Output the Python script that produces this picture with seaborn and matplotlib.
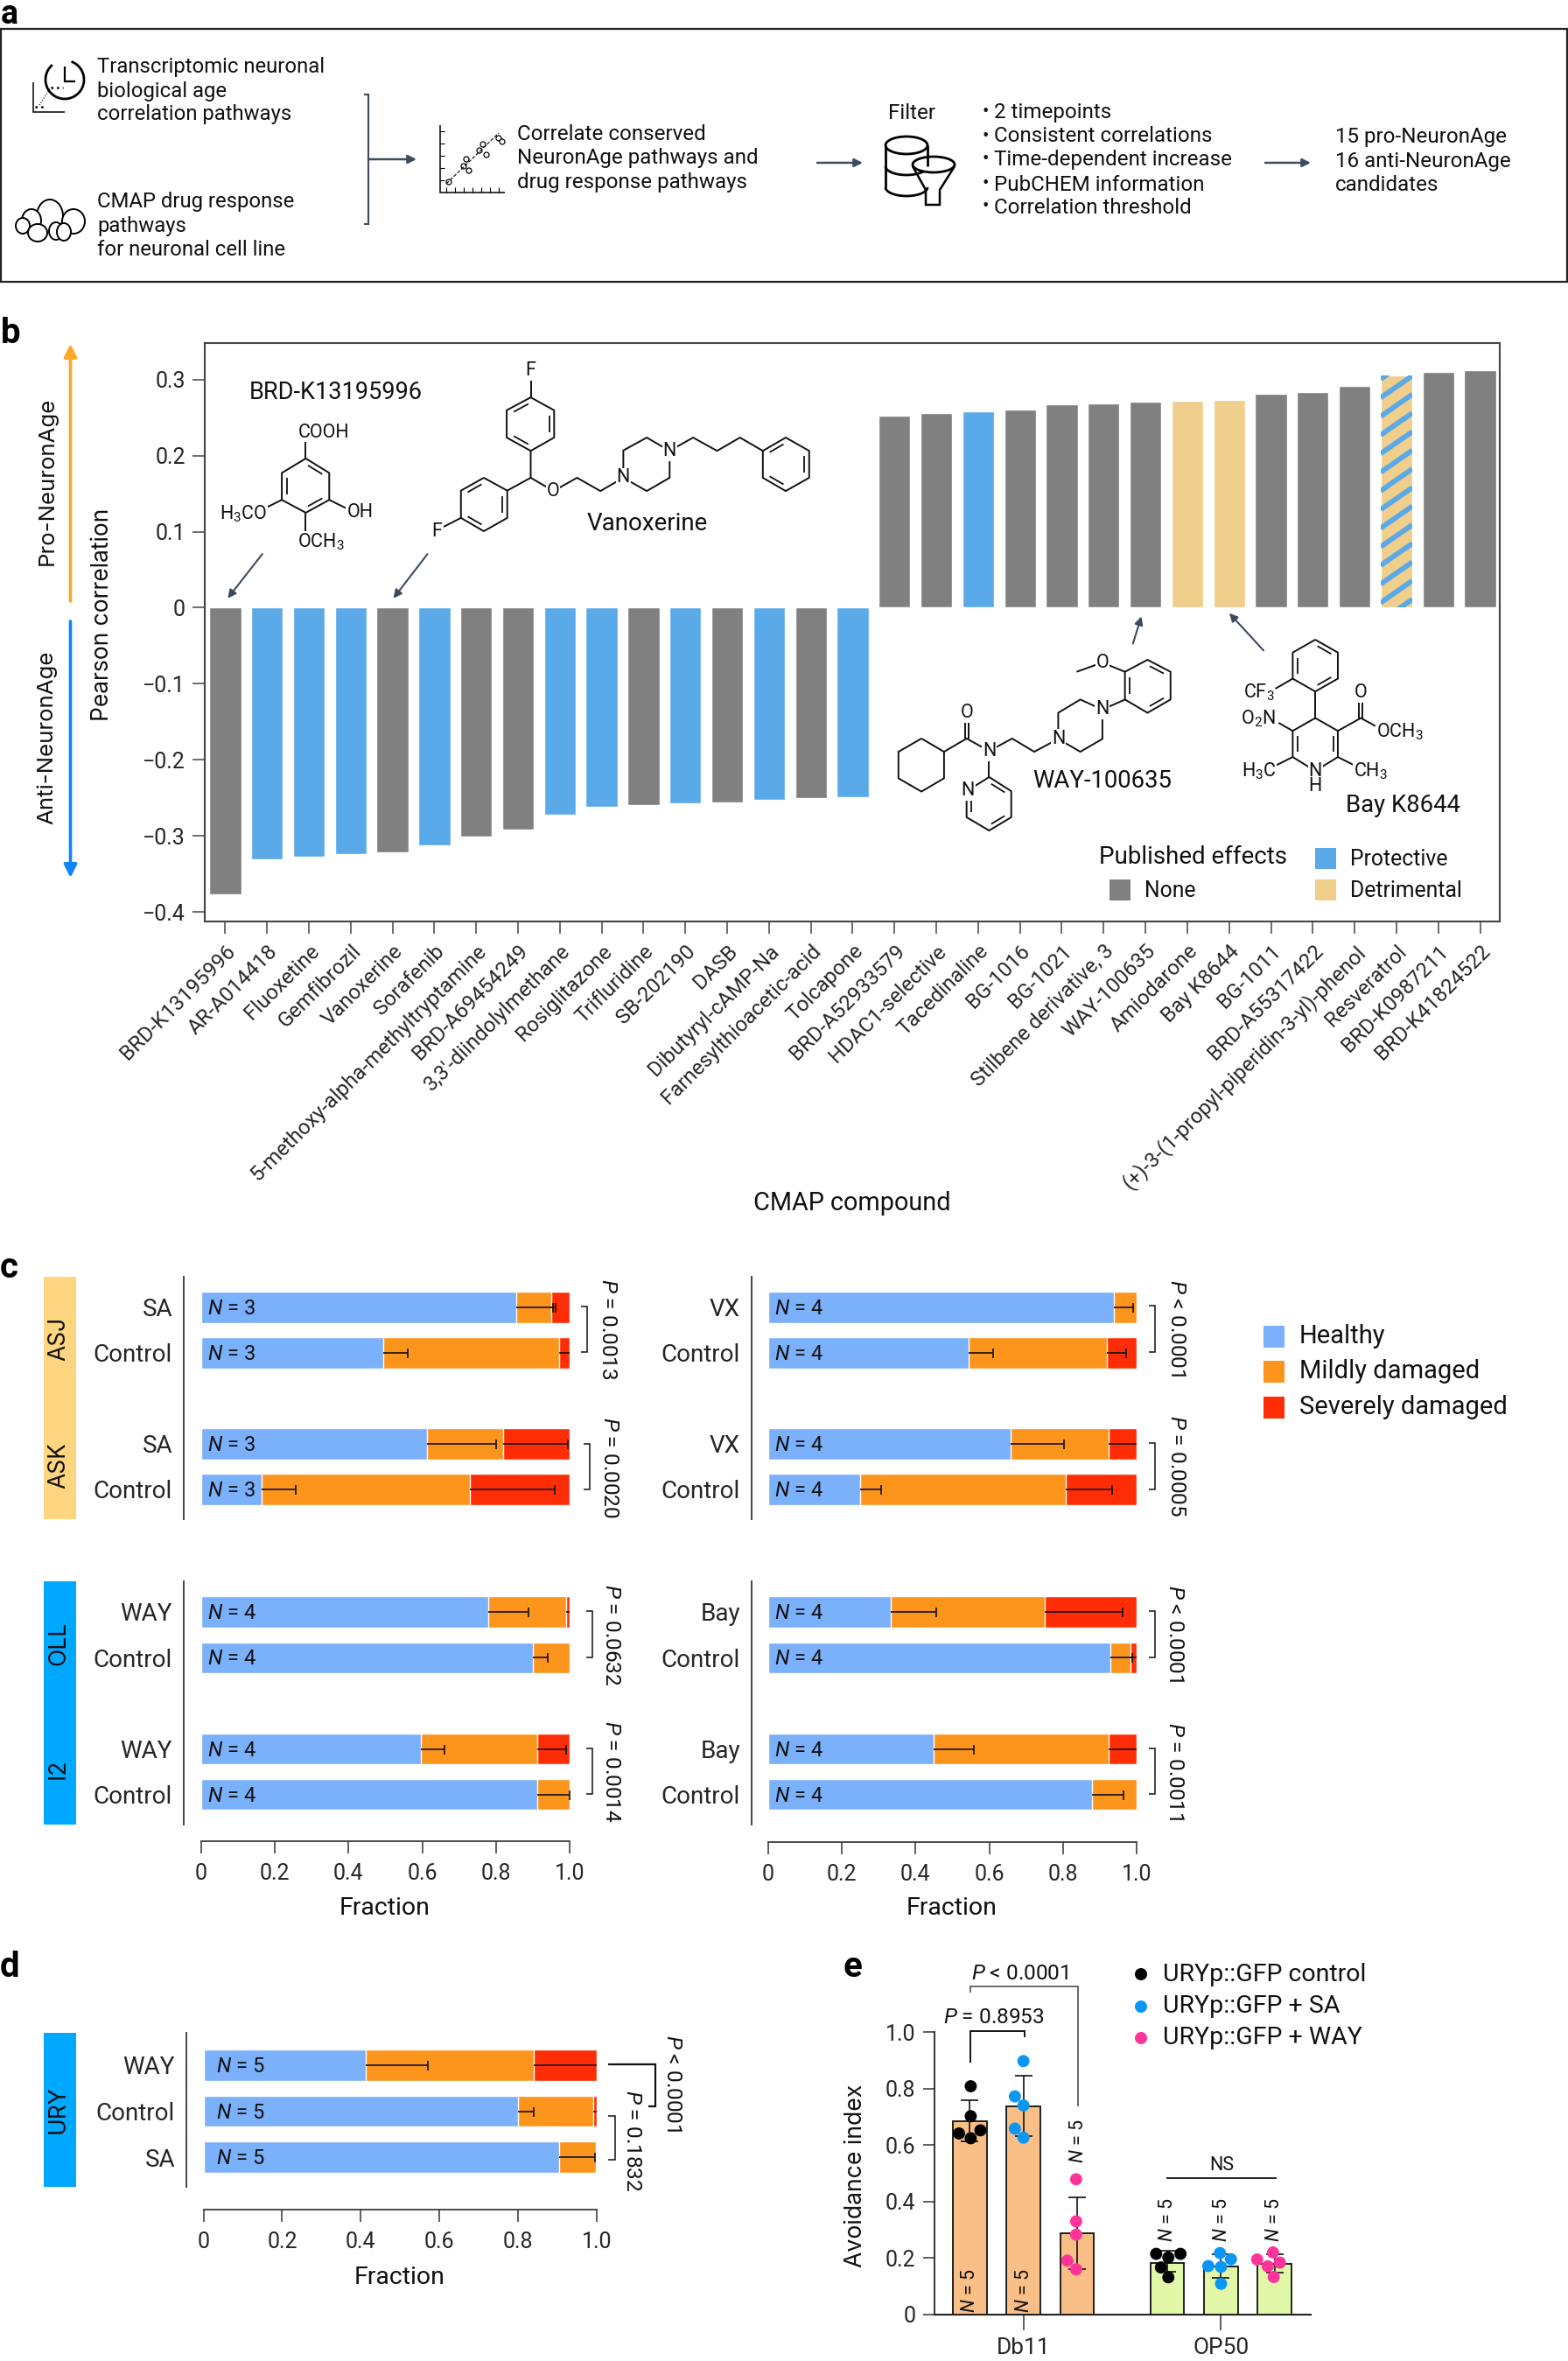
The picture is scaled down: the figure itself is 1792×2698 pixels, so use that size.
import matplotlib
matplotlib.use("Agg")
import numpy as np
import pandas as pd
import matplotlib.pyplot as plt
import seaborn as sns
from matplotlib.patches import Rectangle, Ellipse, Arc, Circle, FancyArrowPatch

W, H = 1792, 2698

# panel b
compounds = ["BRD-K13195996", "AR-A014418", "Fluoxetine", "Gemfibrozil", "Vanoxerine", "Sorafenib",
             "5-methoxy-alpha-methyltryptamine", "BRD-A69454249", "3,3'-diindolylmethane", "Rosiglitazone",
             "Trifluridine", "SB-202190", "DASB", "Dibutyryl-cAMP-Na", "Farnesylthioacetic-acid", "Tolcapone",
             "BRD-A52933579", "HDAC1-selective", "Tacedinaline", "BG-1016", "BG-1021", "Stilbene derivative, 3",
             "WAY-100635", "Amiodarone", "Bay K8644", "BG-1011", "BRD-A55317422",
             "(+)-3-(1-propyl-piperidin-3-yl)-phenol", "Resveratrol", "BRD-K0987211", "BRD-K41824522"]
correlation = [-0.377, -0.331, -0.328, -0.324, -0.322, -0.313, -0.301, -0.292, -0.272, -0.262, -0.259,
               -0.257, -0.256, -0.253, -0.250, -0.249,
               0.252, 0.256, 0.258, 0.260, 0.268, 0.269, 0.271, 0.272, 0.273, 0.281, 0.284, 0.292, 0.305,
               0.310, 0.312]
effect = ["None", "Protective", "Protective", "Protective", "None", "Protective", "None", "None", "Protective",
          "Protective", "None", "Protective", "None", "Protective", "None", "Protective",
          "None", "None", "Protective", "None", "None", "None", "None", "Detrimental", "Detrimental",
          "None", "None", "None", "Both", "None", "None"]
b_yticks = [0.3, 0.2, 0.1, 0, -0.1, -0.2, -0.3, -0.4]
b_ylabels = ["0.3", "0.2", "0.1", "0", "\u22120.1", "\u22120.2", "\u22120.3", "\u22120.4"]

# panel c, each block: labels, healthy end, mild end, end of the two error bars
asj_rows = ["SA", "Control", "SA", "Control"]
asj_healthy = [0.856, 0.493, 0.613, 0.165]
asj_mild = [0.950, 0.972, 0.820, 0.730]
asj_err1 = [0.954, 0.561, 0.800, 0.256]
asj_err2 = [0.962, 1.000, 0.996, 0.960]

oll_rows = ["WAY", "Control", "WAY", "Control"]
oll_healthy = [0.780, 0.900, 0.596, 0.911]
oll_mild = [0.990, 1.000, 0.912, 1.000]
oll_err1 = [0.888, 0.940, 0.661, 1.000]
oll_err2 = [1.000, np.nan, 0.990, np.nan]

vx_rows = ["VX", "Control", "VX", "Control"]
vx_healthy = [0.939, 0.545, 0.657, 0.250]
vx_mild = [1.000, 0.920, 0.925, 0.808]
vx_err1 = [0.990, 0.611, 0.803, 0.306]
vx_err2 = [np.nan, 0.972, 1.000, 0.934]

bay_rows = ["Bay", "Control", "Bay", "Control"]
bay_healthy = [0.333, 0.929, 0.449, 0.879]
bay_mild = [0.750, 0.983, 0.924, 1.000]
bay_err1 = [0.457, 0.987, 0.558, 0.964]
bay_err2 = [0.962, 1.000, 1.000, np.nan]

# panel d
ury_rows = ["WAY", "Control", "SA"]
ury_healthy = [0.412, 0.800, 0.904]
ury_mild = [0.840, 0.992, 0.998]
ury_err1 = [0.570, 0.840, 0.995]
ury_err2 = [1.000, 1.000, np.nan]

fraction_ticks = [0, 0.2, 0.4, 0.6, 0.8, 1.0]
fraction_labels = ["0", "0.2", "0.4", "0.6", "0.8", "1.0"]

# panel e
foods = ["Db11", "OP50"]
groups = ["URYp::GFP control", "URYp::GFP + SA", "URYp::GFP + WAY"]
e_means = [[0.684, 0.184], [0.736, 0.170], [0.287, 0.179]]
e_upper = [[0.760, 0.225], [0.845, 0.215], [0.415, 0.215]]
e_lower = [[0.613, 0.151], [0.633, 0.131], [0.162, 0.150]]
dots_ctrl_db11 = [0.808, 0.702, 0.652, 0.641, 0.624]
dots_sa_db11 = [0.897, 0.772, 0.740, 0.658, 0.626]
dots_way_db11 = [0.479, 0.330, 0.283, 0.191, 0.160]
dots_ctrl_op50 = [0.215, 0.215, 0.202, 0.167, 0.132]
dots_sa_op50 = [0.218, 0.196, 0.172, 0.169, 0.109]
dots_way_op50 = [0.220, 0.195, 0.184, 0.171, 0.133]

GREY, BLUE, TAN = "#808080", "#5AA9E8", "#F0CE8C"
HEALTHY, MILD, SEVERE = "#7BB0FB", "#FD941B", "#FF2D05"
SLATE = "#3D4A60"
TXT = "#111111"

sns.set_theme(style="ticks")
plt.rcParams["font.family"] = ["Roboto", "DejaVu Sans"]
plt.rcParams["mathtext.fontset"] = "custom"
plt.rcParams["mathtext.rm"] = "Roboto"
plt.rcParams["mathtext.it"] = "Roboto:italic"
plt.rcParams["mathtext.bf"] = "Roboto:bold"
plt.rcParams["text.color"] = TXT

fig = plt.figure(figsize=(W / 100, H / 100), dpi=100)


def ax_px(l, t, r, b):
    return fig.add_axes([l / W, 1 - b / H, (r - l) / W, (b - t) / H])


def px(v):
    return v * 0.72


# ---- panel b
ax_b = ax_px(234, 392, 1714, 1053)
df_b = pd.DataFrame({"compound": compounds, "r": correlation, "effect": effect})
effect_order = ["None", "Protective", "Detrimental", "Both"]
sns.barplot(data=df_b, x="compound", y="r", hue="effect", hue_order=effect_order, order=compounds,
            palette=[GREY, BLUE, TAN, TAN], dodge=False, width=0.76, saturation=1, legend=False, ax=ax_b)
# blue stripes on the bar with both published effects
for bar in ax_b.containers[3]:
    x0, x1 = bar.get_x(), bar.get_x() + bar.get_width()
    for y0 in np.arange(-0.018, bar.get_height(), 0.0245):
        stripe, = ax_b.plot([x0, x1], [y0, y0 + 0.029], color=BLUE, lw=4.2, solid_capstyle="butt")
        stripe.set_clip_path(bar)
ax_b.set_xlim(-0.49, 30.47)
ax_b.set_ylim(-0.4126, 0.348)
ax_b.set_yticks(b_yticks, b_ylabels, fontsize=18)
ax_b.set_xticks(range(len(compounds)))
ax_b.set_xticklabels(compounds, rotation=45, ha="right", rotation_mode="anchor", fontsize=17.3)
ax_b.tick_params(axis="both", length=px(14), width=1.1, color="#444444", pad=6)
ax_b.set_xlabel("")
ax_b.set_ylabel("")
for s in ax_b.spines.values():
    s.set_color("#444444")
    s.set_linewidth(1.5)


# ---- panels c and d
def stack_panel(rect, rows, healthy, mild, err1, err2, n, c0, step, spine_x, show_x=False, n_x=0.016):
    left, top, right, bottom = rect
    ax = ax_px(left, top, right, bottom)
    keys = [f"{i} {lab}" for i, lab in enumerate(rows)]
    order = keys[:2] + [" "] + keys[2:] if len(rows) == 4 else keys
    df = pd.DataFrame({"row": keys, "total": [1.0] * len(keys), "mild": mild, "healthy": healthy})
    for col, color in [("total", SEVERE), ("mild", MILD), ("healthy", HEALTHY)]:
        sns.barplot(data=df, x=col, y="row", order=order, color=color, width=0.675, orient="y",
                    saturation=1, ax=ax)
    pos = [order.index(k) for k in keys]
    for i, y in enumerate(pos):
        ax.hlines(y, healthy[i], err1[i], color="#111111", lw=1.2, zorder=5)
        ax.plot(err1[i], y, marker="|", ms=px(11), mew=1.2, color="#111111", zorder=5)
        if not np.isnan(err2[i]):
            ax.hlines(y, mild[i], err2[i], color="#111111", lw=1.2, zorder=5)
            if err2[i] < 1:
                ax.plot(err2[i], y, marker="|", ms=px(11), mew=1.2, color="#111111", zorder=5)
        ax.text(n_x, y + 0.03, rf"$\mathit{{N}}$ = {n}", fontsize=17, va="center", ha="left")
    ax.set_xlim(0, 1)
    ax.set_ylim((bottom - c0) / step, (top - c0) / step)
    ax.set_xlabel("")
    ax.set_ylabel("")
    ax.patch.set_alpha(0)
    sns.despine(ax=ax, top=True, right=True, bottom=not show_x)
    # set_position resets the ticks, so it goes before the tick setup
    ax.spines["left"].set_position(("outward", px(left - spine_x)))
    ax.spines["left"].set_color("#444444")
    ax.spines["left"].set_linewidth(1.4)
    if show_x:
        ax.spines["bottom"].set_position(("outward", px(show_x)))
        ax.spines["bottom"].set_color("#333333")
        ax.set_xticks(fraction_ticks, fraction_labels, fontsize=18)
        ax.tick_params(axis="x", length=px(14), width=1.1, color="#333333", pad=8)
    else:
        ax.set_xticks([])
    ax.set_yticks(pos, rows, fontsize=20)
    ax.tick_params(axis="y", length=0, pad=px(13))
    return ax


stack_panel((230, 1459, 651, 1736), asj_rows, asj_healthy, asj_mild, asj_err1, asj_err2, 3, 1494, 52, 210)
stack_panel((230, 1807, 651, 2085), oll_rows, oll_healthy, oll_mild, oll_err1, oll_err2, 4, 1842, 52.2, 210, show_x=19)
stack_panel((878, 1459, 1299, 1736), vx_rows, vx_healthy, vx_mild, vx_err1, vx_err2, 4, 1494, 52, 859)
stack_panel((878, 1807, 1299, 2085), bay_rows, bay_healthy, bay_mild, bay_err1, bay_err2, 4, 1842, 52.2, 859, show_x=20)
stack_panel((232.5, 2323, 682, 2499), ury_rows, ury_healthy, ury_mild, ury_err1, ury_err2, 5, 2359.7, 52.8, 213,
            show_x=26, n_x=0.032)

# ---- panel e
ax_e = ax_px(1068, 2322, 1498, 2645)
df_means = pd.DataFrame({
    "food": foods * 3,
    "group": [g for g in groups for _ in foods],
    "mean": [v for row in e_means for v in row],
})
sns.barplot(data=df_means, x="food", y="mean", hue="group", order=foods, hue_order=groups, width=0.815, gap=0.37,
            errorbar=None, legend=False, edgecolor="#111111", linewidth=1.3, ax=ax_e)
for k, cont in enumerate(list(ax_e.containers)):
    for j, bar in enumerate(cont):
        bar.set_facecolor(["#F9BF87", "#E2F8A8"][j])
        xc = bar.get_x() + bar.get_width() / 2
        ax_e.errorbar(xc, e_means[k][j], yerr=[[e_means[k][j] - e_lower[k][j]], [e_upper[k][j] - e_means[k][j]]],
                      color="#111111", lw=1.2, capsize=px(10), capthick=1.2, zorder=3)
df_dots = pd.DataFrame({
    "food": ["Db11"] * 15 + ["OP50"] * 15,
    "group": [g for g in groups for _ in range(5)] * 2,
    "value": dots_ctrl_db11 + dots_sa_db11 + dots_way_db11 + dots_ctrl_op50 + dots_sa_op50 + dots_way_op50,
})
dot_colors = ["#000000", "#0A96F5", "#FF3399"]
sns.swarmplot(data=df_dots, x="food", y="value", hue="group", order=foods, hue_order=groups, dodge=True,
              palette=dot_colors, size=10, legend=False, zorder=5, clip_on=False, ax=ax_e)
ax_e.set_xlim(-0.45, 1.454)
ax_e.set_ylim(0, 1.0)
ax_e.set_yticks(fraction_ticks, fraction_labels, fontsize=18)
ax_e.set_xticks([0, 1], foods, fontsize=19)
ax_e.tick_params(axis="y", length=px(13.5), width=1.1, color="#333333", pad=6)
ax_e.tick_params(axis="x", length=px(18), width=1.1, color="#333333", pad=6)
ax_e.set_xlabel("")
ax_e.set_ylabel("")
ax_e.patch.set_alpha(0)
sns.despine(ax=ax_e)
ax_e.spines["left"].set_linewidth(1.3)
ax_e.spines["bottom"].set_linewidth(1.5)
for s in ["left", "bottom"]:
    ax_e.spines[s].set_color("#222222")

# ---- overlay for texts, arrows, drawings (pixel coordinates)
over = fig.add_axes([0, 0, 1, 1], zorder=10)
over.set_xlim(0, W)
over.set_ylim(H, 0)
over.axis("off")
over.patch.set_alpha(0)


def label(x, y, s, size=16, ha="left", va="center", rot=0, **kw):
    return over.text(x, y, s, fontsize=size, ha=ha, va=va, rotation=rot, **kw)


def line(pts, color=TXT, lw=1.3, **kw):
    xs, ys = zip(*pts)
    over.plot(xs, ys, color=color, lw=lw, solid_capstyle="butt", solid_joinstyle="miter", **kw)


def arrow(p0, p1, color=SLATE, lw=1.8, head=14):
    over.add_patch(FancyArrowPatch(p0, p1, arrowstyle="-|>", mutation_scale=head, color=color, lw=lw,
                                   shrinkA=0, shrinkB=0))


def z2(x, y):
    return x / 1.568, 360 + y / 2.178


def z3(x, y):
    return 950 + x / 1.862, 360 + y / 2.178


def ring(pts, f, doubles=()):
    pts = [f(*p) for p in pts]
    line(pts + pts[:1], lw=1.4)
    cx = sum(p[0] for p in pts) / len(pts)
    cy = sum(p[1] for p in pts) / len(pts)
    for i in doubles:
        a, b = pts[i], pts[(i + 1) % len(pts)]
        a2 = (cx + (a[0] - cx) * 0.8, cy + (a[1] - cy) * 0.8)
        b2 = (cx + (b[0] - cx) * 0.8, cy + (b[1] - cy) * 0.8)
        m = lambda p, q, t: (p[0] + (q[0] - p[0]) * t, p[1] + (q[1] - p[1]) * t)
        line([m(a2, b2, 0.12), m(a2, b2, 0.88)], lw=1.3)


def chain(pts, f):
    line([f(*p) for p in pts], lw=1.4)


def atom(s, xz, yz, f, size=15.5, ha="center"):
    x, y = f(xz, yz)
    label(x, y, s, size=size, ha=ha, bbox=dict(fc="white", ec="none", pad=0.6))


# panel letters
for s, x, y in [("a", 1, 27), ("b", 1, 392), ("c", 0, 1460), ("d", 0, 2259), ("e", 964, 2259)]:
    label(x, y, s, size=27 if s == "a" else 29, va="baseline", fontweight="bold", color="black")

# panel a
over.add_patch(Rectangle((1, 33), W - 2, 289, fc="none", ec="#222222", lw=1.6))
for y, s in zip([76, 104, 131], ["Transcriptomic neuronal", "biological age", "correlation pathways"]):
    label(111, y, s, size=17.2)
for y, s in zip([231, 258, 286], ["CMAP drug response", "pathways", "for neuronal cell line"]):
    label(111, y, s, size=17.2)
line([(416, 108), (421, 108), (421, 256), (416, 256)], color=SLATE, lw=1.5)
arrow((421, 182), (476, 182))
for y, s in zip([153, 181, 209], ["Correlate conserved", "NeuronAge pathways and", "drug response pathways"]):
    label(591, y, s, size=17.4)
arrow((934, 186), (986, 186))
label(1015, 129, "Filter", size=17.4)
for y, s in zip([129, 156, 183, 211, 237], ["2 timepoints", "Consistent correlations", "Time-dependent increase",
                                           "PubCHEM information", "Correlation threshold"]):
    label(1122, y, "\u2022", size=16)
    label(1136, y, s, size=17.4)
arrow((1446, 186), (1498, 186))
for y, s in zip([157, 185, 212], ["15 pro-NeuronAge", "16 anti-NeuronAge", "candidates"]):
    label(1526, y, s, size=17.4)

# clock + graph icon
over.add_patch(Arc((74, 91), 44, 44, theta1=-70, theta2=230, color="black", lw=2))
line([(74, 76), (74, 93), (86, 93)], color="black", lw=1.6)
line([(38, 94), (38, 128), (74, 128)], color="black", lw=1.1)
line([(40, 122), (50, 122)], color="black", lw=1.8, ls=":")
line([(58, 100), (72, 100)], color="black", lw=1.8, ls=":")
line([(45, 120), (58, 100)], color="black", lw=0.8, ls=":")
# cell cluster icon
for cx, cy, rx, ry in [(57, 247, 15, 19), (36, 252, 11, 13), (26, 258, 8, 9), (43, 266, 11, 10),
                       (64, 264, 8, 10), (84, 253, 13, 14), (73, 265, 8, 10)]:
    over.add_patch(Ellipse((cx, cy), 2 * rx, 2 * ry, fc="white", ec="black", lw=1.4))
# scatter icon
line([(503, 143), (503, 220), (577, 220)], color="black", lw=1.1)
for yy in np.arange(150, 220, 14):
    line([(503, yy), (508, yy)], color="black", lw=0.8)
for xx in np.arange(510, 577, 10):
    line([(xx, 220), (xx, 214)], color="black", lw=0.8)
line([(510, 210), (570, 152)], color="black", lw=0.8, ls="--")
for cx, cy in [(513, 208), (530, 190), (536, 195), (533, 182), (548, 172), (556, 177), (570, 158), (574, 162), (552, 165)]:
    over.add_patch(Circle((cx, cy), 3, fc="white", ec="black", lw=0.9))
# database and funnel icon
over.add_patch(Rectangle((1012, 166), 48, 50, fc="white", ec="none"))
line([(1012, 166), (1012, 214)], color="black", lw=2)
line([(1060, 166), (1060, 190)], color="black", lw=2)
over.add_patch(Ellipse((1036, 166), 48, 20, fc="white", ec="black", lw=2))
over.add_patch(Arc((1036, 190), 48, 20, theta1=0, theta2=180, color="black", lw=2))
over.add_patch(Arc((1036, 214), 48, 20, theta1=0, theta2=180, color="black", lw=2))
line([(1043, 190), (1058, 217), (1058, 234), (1074, 234), (1074, 217), (1091, 190)], color="black", lw=1.8)
over.add_patch(Ellipse((1067, 188), 48, 18, fc="white", ec="black", lw=2))

# panel b side labels
WIDE = ["Inter", "DejaVu Sans"]
arrow((80.5, 687), (80.5, 393), color="#FFA726", lw=2.6, head=22)
arrow((80.5, 710), (80.5, 1003), color="#0A84FF", lw=2.6, head=22)
label(54, 550, "Pro-NeuronAge", size=18.6, ha="center", rot=90, family=WIDE)
label(54, 843, "Anti-NeuronAge", size=18.6, ha="center", rot=90, family=WIDE)
label(117, 702, "Pearson correlation", size=19, ha="center", rot=90, family=WIDE)
label(974, 1375, "CMAP compound", size=20.8, ha="center")

# BRD-K13195996
label(*z2(602, 193), "BRD-K13195996", size=19.5, ha="center")
ring([(548, 357), (590, 393), (590, 460), (548, 492), (505, 460), (505, 393)], z2, doubles=(0, 2, 4))
chain([(548, 357), (548, 310)], z2)
chain([(590, 460), (622, 482)], z2)
chain([(505, 460), (473, 482)], z2)
chain([(548, 492), (548, 545)], z2)
atom("COOH", 581, 292, z2)
atom("OH", 645, 492, z2)
atom(r"H$_3$CO", 436, 495, z2)
atom(r"OCH$_3$", 575, 565, z2)
arrow(z2(470, 595), z2(408, 705), lw=1.5)
arrow(z2(766, 595), z2(705, 705), lw=1.5)

# Vanoxerine
ring([(951, 205), (993, 237), (993, 305), (951, 338), (908, 305), (908, 237)], z2, doubles=(1, 3, 5))
ring([(867, 405), (909, 437), (909, 505), (867, 538), (826, 505), (826, 437)], z2, doubles=(1, 3, 5))
ring([(1367, 338), (1408, 305), (1450, 338), (1450, 405), (1408, 438), (1367, 405)], z2, doubles=(0, 2, 4))
ring([(1117, 405), (1117, 337), (1159, 305), (1200, 338), (1200, 405), (1159, 438)], z2)
chain([(951, 155), (951, 205)], z2)
chain([(951, 338), (951, 405), (909, 437)], z2)
chain([(826, 505), (795, 527)], z2)
chain([(951, 405), (992, 438), (1034, 405), (1076, 438), (1117, 405)], z2)
chain([(1200, 338), (1242, 305), (1285, 338), (1326, 305), (1367, 338)], z2)
atom("F", 950, 138, z2)
atom("F", 783, 538, z2)
atom("O", 991, 438, z2)
atom("N", 1117, 405, z2)
atom("N", 1200, 338, z2)
label(*z2(1160, 520), "Vanoxerine", size=20, ha="center")

# WAY-100635
ring([(192, 1054), (240, 1087), (240, 1153), (192, 1186), (143, 1153), (143, 1087)], z3)
ring([(336, 1150), (383, 1185), (383, 1250), (336, 1283), (288, 1250), (288, 1185)], z3, doubles=(0, 2, 4))
ring([(483, 1055), (483, 990), (530, 957), (577, 982), (577, 1055), (530, 1087)], z3)
ring([(625, 957), (625, 888), (673, 858), (722, 888), (722, 957), (673, 990)], z3, doubles=(0, 2, 4))
chain([(240, 1087), (288, 1054), (336, 1085), (385, 1054), (432, 1087), (483, 1055)], z3)
chain([(284, 1054), (284, 1005)], z3)
chain([(292, 1054), (292, 1005)], z3)
chain([(336, 1085), (336, 1150)], z3)
chain([(577, 982), (625, 957)], z3)
chain([(625, 888), (577, 865), (522, 888)], z3)
atom("O", 288, 990, z3)
atom("N", 336, 1085, z3)
atom("N", 291, 1183, z3)
atom("N", 483, 1055, z3)
atom("N", 577, 982, z3)
atom("O", 577, 865, z3)
label(*z3(577, 1160), "WAY-100635", size=19.8, ha="center")
arrow(z3(642, 818), z3(660, 750), lw=1.5)

# Bay K8644
ring([(1030, 808), (1078, 840), (1078, 905), (1030, 937), (982, 905), (982, 840)], z3, doubles=(0, 2, 4))
ring([(1030, 1003), (1078, 1035), (1078, 1100), (1030, 1135), (982, 1100), (982, 1035)], z3, doubles=(1, 4))
chain([(1030, 937), (1030, 1003)], z3)
chain([(982, 905), (945, 930)], z3)
chain([(982, 1035), (952, 1015)], z3)
chain([(982, 1100), (948, 1120)], z3)
chain([(1078, 1100), (1112, 1120)], z3)
chain([(1078, 1035), (1127, 1003), (1158, 1023)], z3)
chain([(1123, 1003), (1123, 955)], z3)
chain([(1131, 1003), (1131, 955)], z3)
atom(r"CF$_3$", 910, 940, z3)
atom(r"O$_2$N", 908, 1005, z3)
atom(r"H$_3$C", 910, 1135, z3)
atom(r"CH$_3$", 1148, 1135, z3)
atom(r"OCH$_3$", 1210, 1038, z3)
atom("O", 1127, 940, z3)
atom("N", 1030, 1135, z3)
atom("H", 1030, 1172, z3)
label(*z3(1217, 1220), "Bay K8644", size=19.8, ha="center")
arrow(z3(920, 835), z3(847, 742), lw=1.5)

# panel b legend
label(*z3(770, 1350), "Published effects", size=20, ha="center")
for (x0, y0), c, s in [((592, 1404), GREY, "None"), ((1030, 1326), BLUE, "Protective"), ((1030, 1404), TAN, "Detrimental")]:
    xa, ya = z3(x0, y0)
    over.add_patch(Rectangle((xa, ya), 24, 24, fc=c, ec="none"))
    label(xa + 40, ya + 13, s, size=17.8)

# side strips and group names of panels c, d
for (top, bot), c in [((1459, 1736), "#FFD57F"), ((1807, 2085), "#00A8FF"), ((2323, 2499), "#00A8FF")]:
    over.add_patch(Rectangle((49.5, top), 37, bot - top, fc=c, ec="none"))
for y, s in [(1530, "ASJ"), (1675, "ASK"), (1878, "OLL"), (2021, "I2"), (2411, "URY")]:
    label(67, y, s, size=19, ha="center", rot=90, family=WIDE)


# significance brackets of panels c, d
def bracket(x, y0, y1, tick=7, lw=1.1):
    line([(x - tick, y0), (x, y0), (x, y1), (x - tick, y1)], lw=lw)


for x, y0, y1, lx, ly, s in [
    (671, 1493, 1545, 694, 1519, "= 0.0013"), (674, 1650, 1702, 696, 1677, "= 0.0020"),
    (677, 1841, 1894, 698, 1868, "= 0.0632"), (677, 1998, 2050, 698, 2024, "= 0.0014"),
    (1320, 1492, 1545, 1345, 1518, "< 0.0001"), (1320, 1649, 1702, 1345, 1675, "= 0.0005"),
    (1320, 1841, 1894, 1342, 1867, "< 0.0001"), (1320, 1998, 2050, 1342, 2024, "= 0.0011"),
]:
    bracket(x, y0, y1)
    label(lx, ly, rf"$\mathit{{P}}$ {s}", size=17.6, ha="center", rot=270)

line([(695, 2359), (749, 2359), (749, 2407), (741, 2407)], lw=1.6)
label(769, 2381, r"$\mathit{P}$ < 0.0001", size=17.6, ha="center", rot=270)
bracket(703, 2418, 2468, tick=8)
label(723, 2446, r"$\mathit{P}$ = 0.1832", size=17.6, ha="center", rot=270)

# fraction labels
label(440, 2181, "Fraction", size=20.5, ha="center")
label(1088, 2181, "Fraction", size=20.5, ha="center")
label(457, 2602, "Fraction", size=20.5, ha="center")

# panel c legend
for y, c, s in [(1515, HEALTHY, "Healthy"), (1555, MILD, "Mildly damaged"), (1596, SEVERE, "Severely damaged")]:
    over.add_patch(Rectangle((1444, y), 24, 24.5, fc=c, ec="none"))
    label(1485, y + 12, s, size=21)

# panel e annotations
label(978, 2486, "Avoidance index", size=19.2, ha="center", rot=90, family=WIDE)
label(1136, 2306, r"$\mathit{P}$ = 0.8953", size=17.6, ha="center")
line([(1109, 2357), (1109, 2321), (1171, 2321), (1171, 2328)], lw=1.4)
label(1166, 2255, r"$\mathit{P}$ < 0.0001", size=17.6, ha="center")
line([(1109, 2277), (1109, 2270), (1232, 2270), (1232, 2407)], lw=1.1, alpha=0.8)
label(1396, 2474, "NS", size=15.5, ha="center")
line([(1333, 2489), (1459, 2489)], lw=1.3)
for x, y in [(1109, 2618), (1171, 2618), (1232, 2447), (1335, 2537), (1396, 2537), (1457, 2537)]:
    label(x, y, r"$\mathit{N}$ = 5", size=15.5, ha="center", rot=90)
for y, c, s in zip([2256, 2293, 2329], dot_colors, groups):
    over.add_patch(Circle((1304, y), 7, fc=c, ec="none"))
    label(1329, y, s, size=20.5)

fig.savefig("out.png", dpi=100)
